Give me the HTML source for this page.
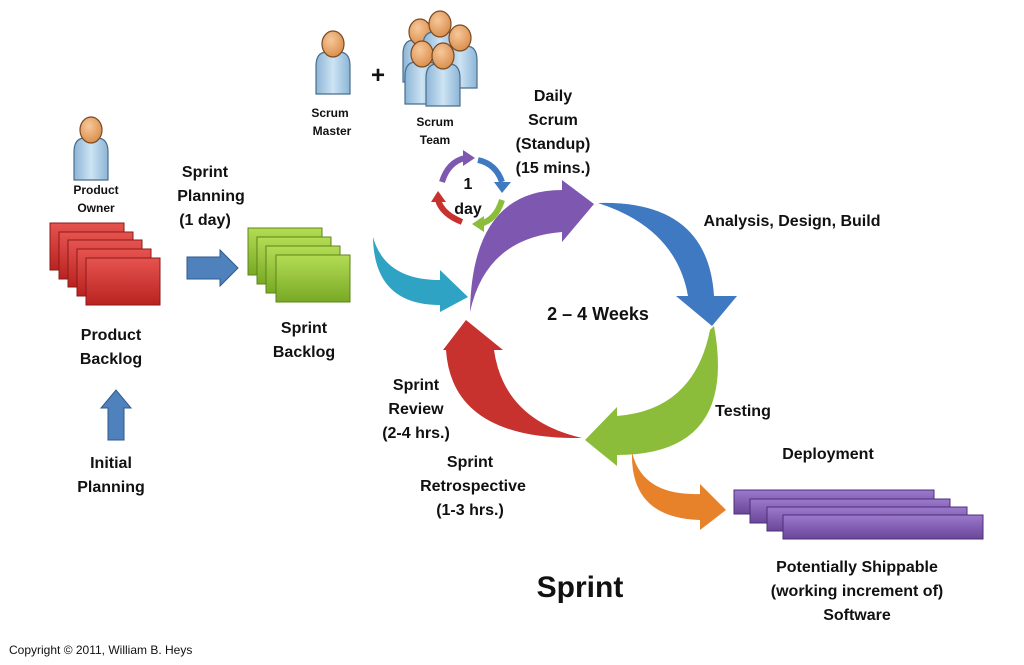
<!DOCTYPE html>
<html><head><meta charset="utf-8"><style>
html,body{margin:0;padding:0;background:#fff;}
svg{display:block}
text{font-family:"Liberation Sans",Arial,sans-serif;font-weight:bold;fill:#111;}
</style></head><body>
<svg width="1024" height="665" viewBox="0 0 1024 665" xmlns="http://www.w3.org/2000/svg">
<defs>
<linearGradient id="red" x1="0" y1="0" x2="0" y2="1"><stop offset="0" stop-color="#e65450"/><stop offset="1" stop-color="#b9221f"/></linearGradient>
<linearGradient id="grn" x1="0" y1="0" x2="0" y2="1"><stop offset="0" stop-color="#b4dc55"/><stop offset="1" stop-color="#78a925"/></linearGradient>
<linearGradient id="pur" x1="0" y1="0" x2="0" y2="1"><stop offset="0" stop-color="#9b79cc"/><stop offset="1" stop-color="#6a4699"/></linearGradient>
<linearGradient id="body" x1="0" y1="0" x2="1" y2="0"><stop offset="0" stop-color="#8cb5d6"/><stop offset=".5" stop-color="#cde3f3"/><stop offset="1" stop-color="#8cb5d6"/></linearGradient>
<radialGradient id="head" cx=".4" cy=".35" r=".7"><stop offset="0" stop-color="#f7c89a"/><stop offset="1" stop-color="#d98c4a"/></radialGradient>
<g id="person"><path d="M-17,42 L-17,14 Q-17,0 -6,0 L6,0 Q17,0 17,14 L17,42 Z" fill="url(#body)" stroke="#4a6d8c" stroke-width="1.2"/><ellipse cx="0" cy="-8" rx="11" ry="13" fill="url(#head)" stroke="#7a4a22" stroke-width="1.2"/></g>
</defs>

<use href="#person" x="91" y="138"/>
<use href="#person" x="333" y="52"/>
<use href="#person" x="420" y="40"/>
<use href="#person" x="440" y="32"/>
<use href="#person" x="460" y="46"/>
<use href="#person" x="422" y="62"/>
<use href="#person" x="443" y="64"/>

<text x="96" y="194" font-size="12" text-anchor="middle">Product</text>
<text x="96" y="212" font-size="12" text-anchor="middle">Owner</text>
<text x="330" y="117" font-size="12" text-anchor="middle">Scrum</text>
<text x="332" y="135" font-size="12" text-anchor="middle">Master</text>
<text x="435" y="126" font-size="12" text-anchor="middle">Scrum</text>
<text x="435" y="144" font-size="12" text-anchor="middle">Team</text>
<text x="378" y="83" font-size="24" text-anchor="middle">+</text>

<g stroke="#8a1a18" stroke-width="1">
<rect x="50" y="223" width="74" height="47" fill="url(#red)"/>
<rect x="59" y="232" width="74" height="47" fill="url(#red)"/>
<rect x="68" y="240" width="74" height="47" fill="url(#red)"/>
<rect x="77" y="249" width="74" height="47" fill="url(#red)"/>
<rect x="86" y="258" width="74" height="47" fill="url(#red)"/>
</g>
<g stroke="#5c8418" stroke-width="1">
<rect x="248" y="228" width="74" height="47" fill="url(#grn)"/>
<rect x="257" y="237" width="74" height="47" fill="url(#grn)"/>
<rect x="266" y="246" width="74" height="47" fill="url(#grn)"/>
<rect x="276" y="255" width="74" height="47" fill="url(#grn)"/>
</g>
<g stroke="#4d2f78" stroke-width="1">
<rect x="734" y="490" width="200" height="24" fill="url(#pur)"/>
<rect x="750" y="499" width="200" height="24" fill="url(#pur)"/>
<rect x="767" y="507" width="200" height="24" fill="url(#pur)"/>
<rect x="783" y="515" width="200" height="24" fill="url(#pur)"/>
</g>

<path d="M187,257 L220,257 L220,250 L238,268 L220,286 L220,279 L187,279 Z" fill="#4f81bd" stroke="#2f5a8a"/>
<path d="M108,440 L108,408 L101,408 L116,390 L131,408 L124,408 L124,440 Z" fill="#4f81bd" stroke="#2f5a8a"/>

<path d="M470,312 Q486,238 562,232 L562,242 L594,204 L562,180 L562,190 Q472,190 470,312 Z" fill="#7e57b0"/>
<path d="M598,203 Q708,200 714,296 L737,296 L712,326 L676,296 L688,296 Q676,228 598,203 Z" fill="#3f79c2"/>
<path d="M714,326 Q738,455 617,455 L617,466 L585,440 L617,407 L617,416 Q694,410 710,330 Z" fill="#8bbd3a"/>
<path d="M582,438 Q452,440 446,350 L443,350 L466,320 L503,350 L494,350 Q504,420 582,438 Z" fill="#c7312e"/>
<path d="M373,237 Q385,280 440,280 L440,270 L468,297 L440,312 L440,305 Q374,305 373,237 Z" fill="#2fa3c4"/>
<path d="M632,452 Q642,496 700,494 L700,484 L726,510 L700,530 L700,520 Q630,518 632,452 Z" fill="#e8822a"/>

<g fill="none" stroke-width="6">
<path d="M442,182 Q448,162 465,158" stroke="#7e57b0"/>
<path d="M478,160 Q496,164 502,182" stroke="#3f79c2"/>
<path d="M502,200 Q496,220 480,224" stroke="#8bbd3a"/>
<path d="M462,222 Q442,214 438,200" stroke="#c7312e"/>
</g>
<path d="M463,150 L475,158 L463,166 Z" fill="#7e57b0"/>
<path d="M494,182 L502,193 L511,182 Z" fill="#3f79c2"/>
<path d="M484,216 L472,224 L484,232 Z" fill="#8bbd3a"/>
<path d="M431,202 L438,191 L446,202 Z" fill="#c7312e"/>
<text x="468" y="189" font-size="16" text-anchor="middle">1</text>
<text x="468" y="214" font-size="16" text-anchor="middle">day</text>

<g font-size="16" text-anchor="middle">
<text x="205" y="177">Sprint</text>
<text x="211" y="201">Planning</text>
<text x="205" y="225">(1 day)</text>
<text x="111" y="340">Product</text>
<text x="111" y="364">Backlog</text>
<text x="304" y="333">Sprint</text>
<text x="304" y="357">Backlog</text>
<text x="111" y="468">Initial</text>
<text x="111" y="492">Planning</text>
<text x="553" y="101">Daily</text>
<text x="553" y="125">Scrum</text>
<text x="553" y="149">(Standup)</text>
<text x="553" y="173">(15 mins.)</text>
<text x="792" y="226">Analysis, Design, Build</text>
<text x="598" y="320" font-size="18">2 – 4 Weeks</text>
<text x="743" y="416">Testing</text>
<text x="828" y="459">Deployment</text>
<text x="416" y="390">Sprint</text>
<text x="416" y="414">Review</text>
<text x="416" y="438">(2-4 hrs.)</text>
<text x="470" y="467">Sprint</text>
<text x="473" y="491">Retrospective</text>
<text x="470" y="515">(1-3 hrs.)</text>
<text x="857" y="572">Potentially Shippable</text>
<text x="857" y="596">(working increment of)</text>
<text x="857" y="620">Software</text>
<text x="580" y="597" font-size="30">Sprint</text>
</g>
<text x="9" y="654" font-size="12" style="font-weight:normal">Copyright © 2011, William B. Heys</text>
</svg>
</body></html>
